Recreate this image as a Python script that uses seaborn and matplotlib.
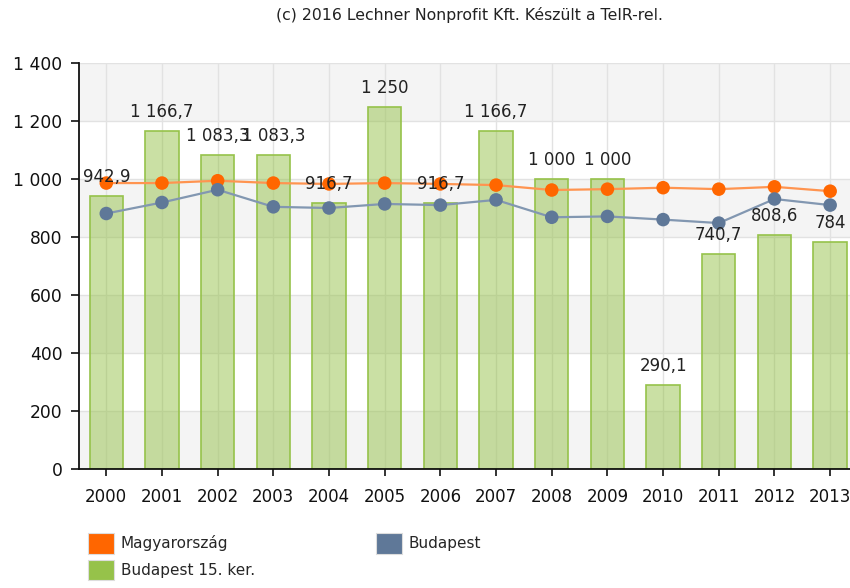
import numpy as np
import matplotlib
matplotlib.use("Agg")
import matplotlib.pyplot as plt
import seaborn as sns
from matplotlib.patches import Patch
from matplotlib.ticker import FuncFormatter, FixedLocator

# --- data -------------------------------------------------------------
years = ["2000", "2001", "2002", "2003", "2004", "2005", "2006",
         "2007", "2008", "2009", "2010", "2011", "2012", "2013"]
district = [942.9, 1166.7, 1083.3, 1083.3, 916.7, 1250, 916.7,
            1166.7, 1000, 1000, 290.1, 740.7, 808.6, 784]
hungary = [986, 986, 994, 986, 983, 986, 983, 979, 962, 965, 970, 965, 973, 958]
budapest = [881, 919, 963, 904, 900, 914, 910, 928, 868, 871, 860, 848, 931, 910]
y_ticks = [0, 200, 400, 600, 800, 1000, 1200, 1400]

names = ["Magyarország", "Budapest", "Budapest 15. ker."]
title = "(c) 2016 Lechner Nonprofit Kft. Készült a TeIR-rel."

# --- colours ----------------------------------------------------------
c_hun = "#ff6600"
c_bud = "#5f7898"
c_dis = "#96c24a"


def hu_number(v):
    """Hungarian style: space as thousands separator, comma as decimal."""
    if float(v).is_integer():
        s = f"{int(v):,}".replace(",", " ")
    else:
        s = f"{v:,.1f}".replace(",", " ").replace(".", ",")
    return s


sns.set_style("white")
plt.rcParams["font.family"] = ["DejaVu Sans"]

fig = plt.figure(figsize=(8.5, 5.88), dpi=100)
ax = fig.add_axes([79 / 850, 1 - 469 / 588, (858 - 79) / 850, (469 - 63) / 588])

x = np.arange(len(years))

# bars
sns.barplot(x=years, y=district, ax=ax, width=0.6, saturation=1,
            color=c_dis, edgecolor="none", zorder=2)
for p in ax.patches:
    p.set_edgecolor(c_dis)
    p.set_linewidth(1.2)
    p.set_facecolor((0x96 / 255, 0xc2 / 255, 0x4a / 255, 0.5))

# alternating horizontal bands
for lo in range(0, 1400, 400):
    ax.axhspan(lo, lo + 200, color="#f4f4f4", zorder=0, lw=0)

# lines
sns.lineplot(x=x, y=hungary, ax=ax, color="#ff9450", lw=1.6, zorder=3)
sns.scatterplot(x=x, y=hungary, ax=ax, color=c_hun, s=95, edgecolor="none", zorder=4)
sns.lineplot(x=x, y=budapest, ax=ax, color="#8297b1", lw=1.6, zorder=3)
sns.scatterplot(x=x, y=budapest, ax=ax, color=c_bud, s=95, edgecolor="none", zorder=4)

# bar value labels
for xi, v in zip(x, district):
    ax.annotate(hu_number(v), (xi, v), xytext=(0, 7), textcoords="offset points",
                ha="center", va="bottom", fontsize=12, color="#222222", zorder=6)

# axes styling
ax.set_xlim(-0.49, 13.5)
ax.set_ylim(0, 1400)
ax.yaxis.set_major_locator(FixedLocator(y_ticks))
ax.yaxis.set_major_formatter(FuncFormatter(lambda v, _: hu_number(v)))
ax.set_xticks(x)
ax.set_xticklabels(years)
ax.grid(True, axis="both", color="#e2e2e2", lw=1, zorder=1)
ax.set_axisbelow(True)
for s in ["top", "right"]:
    ax.spines[s].set_visible(False)
for s in ["left", "bottom"]:
    ax.spines[s].set_color("#111111")
    ax.spines[s].set_linewidth(1.3)
ax.tick_params(axis="y", direction="out", length=6, width=1.2, pad=6,
               labelsize=12.3, left=True, colors="#111111")
ax.tick_params(axis="x", direction="out", length=5, width=1.2, pad=9,
               labelsize=12, bottom=True, colors="#111111")
ax.set_xlabel("")
ax.set_ylabel("")

fig.text(469 / 850, 1 - 15 / 588, title, ha="center", va="center",
         fontsize=11.3, color="#222222")

handles = [Patch(fc=c_hun, ec="#dddddd", lw=0.8),
           Patch(fc=c_dis, ec="#dddddd", lw=0.8),
           Patch(fc=c_bud, ec="#dddddd", lw=0.8)]
labels = [names[0], names[2], names[1]]
fig.legend(handles, labels, ncol=2, loc="upper left",
           bbox_to_anchor=(88 / 850, 1 - 533 / 588), frameon=False,
           fontsize=11, handlelength=1.7, handleheight=1.7,
           handletextpad=0.45, columnspacing=7.9, labelspacing=0.4,
           borderaxespad=0, borderpad=0)

fig.savefig("out.png", dpi=100)
